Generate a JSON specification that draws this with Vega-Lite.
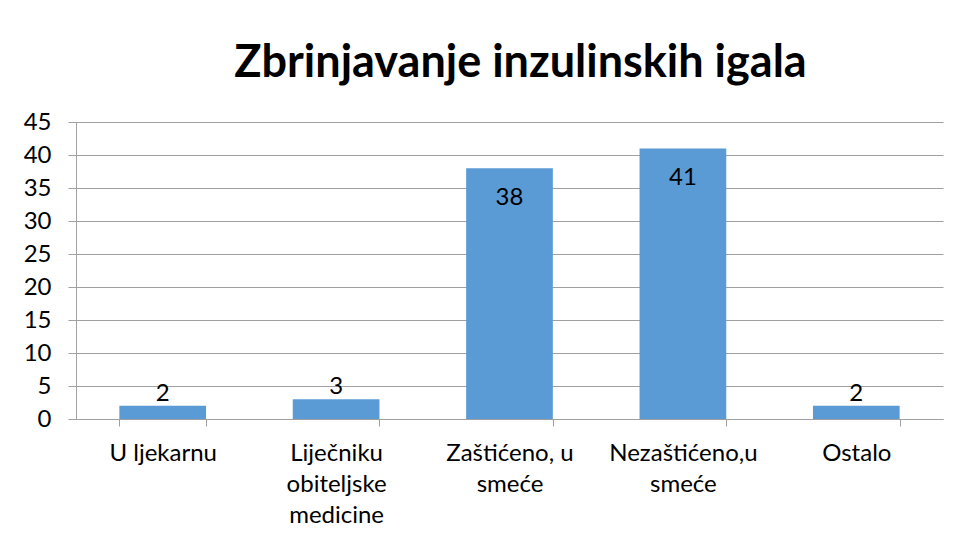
{
  "$schema": "https://vega.github.io/schema/vega-lite/v6.json",
  "autosize": {"type": "none"},
  "width": 867,
  "height": 297,
  "padding": {"left": 76, "top": 122, "right": 20, "bottom": 123},
  "background": "white",
  "title": {
    "text": "Zbrinjavanje inzulinskih igala",
    "font": "Lato",
    "fontSize": 45,
    "fontWeight": "bold",
    "color": "black",
    "anchor": "middle",
    "dx": 11,
    "offset": 24
  },
  "data": {
    "values": [
      {"category": "U ljekarnu", "value": 2},
      {"category": "Liječniku obiteljske medicine", "value": 3},
      {"category": "Zaštićeno, u smeće", "value": 38},
      {"category": "Nezaštićeno,u smeće", "value": 41},
      {"category": "Ostalo", "value": 2}
    ]
  },
  "encoding": {
    "x": {
      "field": "category",
      "type": "nominal",
      "sort": null,
      "scale": {"paddingInner": 0.5, "paddingOuter": 0.25},
      "axis": {
        "title": null,
        "labelAngle": 0,
        "labelFont": "Lato",
        "labelFontSize": 24,
        "labelColor": "black",
        "labelLineHeight": 31,
        "labelPadding": 15,
        "labelExpr": "datum.value == 'Liječniku obiteljske medicine' ? ['Liječniku', 'obiteljske', 'medicine'] : datum.value == 'Zaštićeno, u smeće' ? ['Zaštićeno, u', 'smeće'] : datum.value == 'Nezaštićeno,u smeće' ? ['Nezaštićeno,u', 'smeće'] : datum.value",
        "tickBand": "extent",
        "tickSize": 7,
        "tickColor": "#a0a0a0",
        "domainColor": "#a0a0a0",
        "grid": false
      }
    },
    "y": {
      "field": "value",
      "type": "quantitative",
      "scale": {"domain": [0, 45]},
      "axis": {
        "title": null,
        "values": [0, 5, 10, 15, 20, 25, 30, 35, 40, 45],
        "labelFont": "Lato",
        "labelFontSize": 24,
        "labelColor": "black",
        "labelPadding": 17,
        "tickSize": 8,
        "tickColor": "#a0a0a0",
        "domainColor": "#a0a0a0",
        "gridColor": "#a0a0a0",
        "grid": true
      }
    }
  },
  "layer": [
    {"mark": {"type": "bar", "color": "#5B9BD5"}},
    {
      "transform": [{"filter": "datum.value > 10"}],
      "mark": {"type": "text", "font": "Lato", "fontSize": 24, "fill": "black", "baseline": "middle", "dy": 30},
      "encoding": {"text": {"field": "value", "type": "quantitative"}}
    },
    {
      "transform": [{"filter": "datum.value <= 10"}],
      "mark": {"type": "text", "font": "Lato", "fontSize": 24, "fill": "black", "baseline": "middle", "dy": -12},
      "encoding": {"text": {"field": "value", "type": "quantitative"}}
    }
  ],
  "config": {"view": {"stroke": null}, "text": {"font": "Lato"}}
}
